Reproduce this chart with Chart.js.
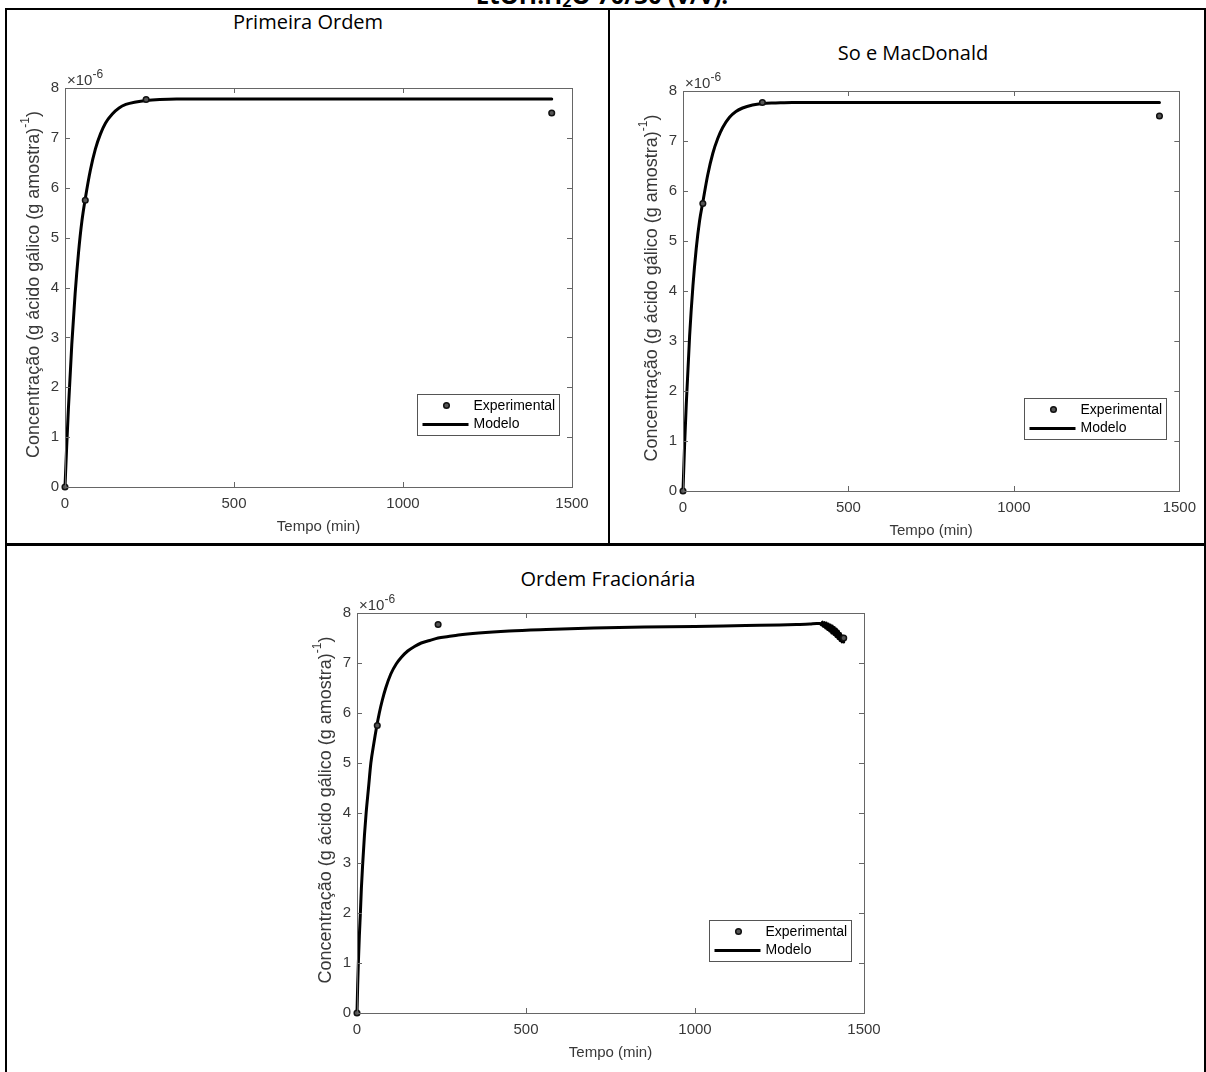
<!DOCTYPE html>
<html>
<head>
<meta charset="utf-8">
<script src="https://cdn.jsdelivr.net/npm/chart.js@4.4.1/dist/chart.umd.min.js"></script>
<style>
  html, body { margin: 0; padding: 0; background: #fff; }
  body { width: 1206px; height: 1072px; position: relative; overflow: hidden; }
  .ln { position: absolute; background: #000; }
  .ttl { position: absolute; font-family: "Open Sans", "Noto Sans", sans-serif; font-size: 20px; color: #000; white-space: nowrap; transform: translateX(-50%); line-height: 24px; }
  .cv { position: absolute; }
</style>
</head>
<body>
<div class="ttl" style="left:602px; top:-19px; font-weight:bold; font-size:24px; line-height:28px;">EtOH:H<sub style="font-size:16px; vertical-align:-3px;">2</sub>O 70/30 (v/v):</div>

<div class="ln" style="left:6px; top:8px; width:1200px; height:2px;"></div>
<div class="ln" style="left:5px; top:8px; width:2px; height:1064px;"></div>
<div class="ln" style="left:608px; top:8px; width:2px; height:537px;"></div>
<div class="ln" style="left:6px; top:543px; width:1200px; height:3px;"></div>
<div class="ln" style="left:1204px; top:8px; width:2px; height:1064px;"></div>

<div class="ttl" style="left:308px; top:10px;">Primeira Ordem</div>
<div class="ttl" style="left:913px; top:41px;">So e MacDonald</div>
<div class="ttl" style="left:608px; top:567px;">Ordem Fracionária</div>

<div class="cv" style="left:10px; top:10px; width:596px; height:533px;"><canvas id="cA"></canvas></div>
<div class="cv" style="left:610px; top:10px; width:594px; height:533px;"><canvas id="cB"></canvas></div>
<div class="cv" style="left:10px; top:546px; width:1194px; height:526px;"><canvas id="cC"></canvas></div>

<script>
// values in units of 1e-6 g ácido gálico (g amostra)^-1
const timeExp = [0, 60, 240, 1440];
const concExp = [0, 5.75, 7.77, 7.50];

const timeModel = [0, 5, 10, 20, 30, 40, 50, 60, 75, 90, 105, 120, 140, 160, 180, 210, 240, 280, 330, 400, 600, 1000, 1440];
const primeiraOrdem = [0, 0.82, 1.56, 2.85, 3.88, 4.70, 5.33, 5.78, 6.35, 6.78, 7.08, 7.30, 7.48, 7.60, 7.67, 7.72, 7.75, 7.77, 7.78, 7.78, 7.78, 7.78, 7.78];
const soMacDonald = [0, 0.95, 1.75, 3.10, 4.10, 4.85, 5.40, 5.78, 6.33, 6.75, 7.05, 7.27, 7.47, 7.59, 7.66, 7.72, 7.75, 7.76, 7.77, 7.77, 7.77, 7.77, 7.77];

const timeFrac = [0, 2, 4, 7, 10, 13, 17, 22, 27, 34, 41, 50, 58, 66, 75, 85, 100, 116, 132, 150, 170, 190, 215, 240, 270, 300, 360, 450, 560, 700, 850, 1000, 1150, 1250, 1300, 1340, 1360, 1370,
  1374, 1377, 1380, 1383, 1386, 1389, 1392, 1395, 1398, 1401, 1404, 1407, 1410, 1413, 1416, 1419, 1422, 1425, 1428, 1431, 1434, 1437, 1440];
const ordemFracionaria = [0, 0.55, 1.0, 1.55, 2.0, 2.5, 3.0, 3.55, 4.0, 4.5, 5.0, 5.4, 5.72, 6.0, 6.26, 6.5, 6.78, 6.98, 7.12, 7.24, 7.33, 7.40, 7.45, 7.50, 7.53, 7.56, 7.60, 7.64, 7.67, 7.70, 7.72, 7.73, 7.75, 7.76, 7.77, 7.78, 7.79, 7.79,
  7.76, 7.82, 7.73, 7.81, 7.70, 7.80, 7.67, 7.78, 7.64, 7.76, 7.60, 7.74, 7.57, 7.71, 7.53, 7.68, 7.49, 7.64, 7.45, 7.59, 7.42, 7.54, 7.42];

const xTicks = [0, 500, 1000, 1500];
const yTicks = [0, 1, 2, 3, 4, 5, 6, 7, 8];

const AX = '#383838';
const FONT = '"Liberation Sans", Arial, sans-serif';

const matlabAxes = {
  id: 'matlabAxes',
  afterDraw(chart) {
    const { ctx, chartArea: a, scales: { x, y } } = chart;
    ctx.save();
    // box
    ctx.strokeStyle = '#666';
    ctx.lineWidth = 1;
    ctx.strokeRect(Math.round(a.left) + 0.5, Math.round(a.top) + 0.5, Math.round(a.right - a.left), Math.round(a.bottom - a.top));
    // inward ticks on all sides
    ctx.beginPath();
    xTicks.forEach(v => {
      const px = Math.round(x.getPixelForValue(v)) + 0.5;
      ctx.moveTo(px, a.bottom); ctx.lineTo(px, a.bottom - 5);
      ctx.moveTo(px, a.top); ctx.lineTo(px, a.top + 5);
    });
    yTicks.forEach(v => {
      const py = Math.round(y.getPixelForValue(v)) + 0.5;
      ctx.moveTo(a.left, py); ctx.lineTo(a.left + 5, py);
      ctx.moveTo(a.right, py); ctx.lineTo(a.right - 5, py);
    });
    ctx.stroke();

    // axis labels
    ctx.fillStyle = AX;
    ctx.font = '15px ' + FONT;
    ctx.textAlign = 'center';
    ctx.textBaseline = 'middle';
    ctx.fillText('Tempo (min)', (a.left + a.right) / 2, a.bottom + 40);

    ctx.save();
    ctx.translate(a.left - 31, (a.top + a.bottom) / 2 - 3);
    ctx.rotate(-Math.PI / 2);
    const main = 'Concentração (g ácido gálico (g amostra)';
    const sup = '-1';
    const tail = ')';
    ctx.font = '18px ' + FONT;
    const wMain = ctx.measureText(main).width;
    const wTail = ctx.measureText(tail).width;
    ctx.font = '12px ' + FONT;
    const wSup = ctx.measureText(sup).width;
    const total = wMain + wSup + wTail;
    ctx.textAlign = 'left';
    ctx.font = '18px ' + FONT;
    ctx.fillText(main, -total / 2, 0);
    ctx.font = '12px ' + FONT;
    ctx.fillText(sup, -total / 2 + wMain, -8);
    ctx.font = '18px ' + FONT;
    ctx.fillText(tail, -total / 2 + wMain + wSup, 0);
    ctx.restore();

    // exponent
    ctx.textAlign = 'left';
    ctx.textBaseline = 'alphabetic';
    ctx.font = '15px ' + FONT;
    ctx.fillText('\u00d710', a.left + 2, a.top - 3);
    const w10 = ctx.measureText('\u00d710').width;
    ctx.font = '12px ' + FONT;
    ctx.fillText('-6', a.left + 2 + w10, a.top - 10);

    // legend
    const bw = 142, bh = 41;
    const bx = Math.round(a.right - 13 - bw) + 0.5, by = Math.round(a.bottom - 52 - bh) + 0.5;
    ctx.fillStyle = '#fff';
    ctx.fillRect(bx, by, bw, bh);
    ctx.strokeStyle = '#555';
    ctx.lineWidth = 1;
    ctx.strokeRect(bx, by, bw, bh);
    ctx.beginPath();
    ctx.arc(bx + 29, by + 11, 2.8, 0, Math.PI * 2);
    ctx.fillStyle = '#555';
    ctx.fill();
    ctx.lineWidth = 1.5;
    ctx.strokeStyle = '#111';
    ctx.stroke();
    ctx.beginPath();
    ctx.moveTo(bx + 5, by + 30); ctx.lineTo(bx + 51, by + 30);
    ctx.lineWidth = 3;
    ctx.strokeStyle = '#000';
    ctx.stroke();
    ctx.fillStyle = '#000';
    ctx.font = '14px ' + FONT;
    ctx.textBaseline = 'middle';
    ctx.fillText('Experimental', bx + 56, by + 12);
    ctx.fillText('Modelo', bx + 56, by + 30);
    ctx.restore();
  }
};

function pts(xs, ys) { return xs.map((t, i) => ({ x: t, y: ys[i] })); }

function makePanel(id, modelX, modelY, pad, yWidth, xHeight) {
  return new Chart(document.getElementById(id), {
    type: 'scatter',
    data: {
      datasets: [
        {
          label: 'Experimental', data: pts(timeExp, concExp), clip: 6,
          pointRadius: 2.8, pointHoverRadius: 2.8, pointBorderWidth: 1.5,
          pointBorderColor: '#111', pointBackgroundColor: '#555', showLine: false,
        },
        {
          label: 'Modelo', data: pts(modelX, modelY), clip: 4,
          showLine: true, pointRadius: 0, borderColor: '#000', borderWidth: 3,
          cubicInterpolationMode: 'monotone', borderJoinStyle: 'round', borderCapStyle: 'round',
        },
      ],
    },
    options: {
      responsive: true,
      maintainAspectRatio: false,
      animation: false,
      layout: { padding: pad },
      plugins: { legend: { display: false }, tooltip: { enabled: false } },
      scales: {
        x: {
          type: 'linear', min: 0, max: 1500,
          grid: { display: false, drawTicks: false, tickLength: 0 }, border: { display: false },
          afterBuildTicks: s => { s.ticks = xTicks.map(v => ({ value: v })); },
          ticks: { color: AX, padding: 8, maxRotation: 0, font: { family: FONT, size: 15 }, callback: v => String(v) },
          afterFit: s => { s.height = xHeight; },
        },
        y: {
          type: 'linear', min: 0, max: 8,
          grid: { display: false, drawTicks: false, tickLength: 0 }, border: { display: false },
          afterBuildTicks: s => { s.ticks = yTicks.map(v => ({ value: v })); },
          ticks: { color: AX, padding: 6, font: { family: FONT, size: 15 }, callback: v => String(v) },
          afterFit: s => { s.width = yWidth; },
        },
      },
    },
    plugins: [matlabAxes],
  });
}

makePanel('cA', timeModel, primeiraOrdem, { top: 78, right: 34, bottom: 0, left: 0 }, 55, 56);
makePanel('cB', timeModel, soMacDonald, { top: 81, right: 16, bottom: 0, left: 0 }, 73, 52);
makePanel('cC', timeFrac, ordemFracionaria, { top: 67, right: 340, bottom: 0, left: 0 }, 347, 59);
</script>
</body>
</html>
